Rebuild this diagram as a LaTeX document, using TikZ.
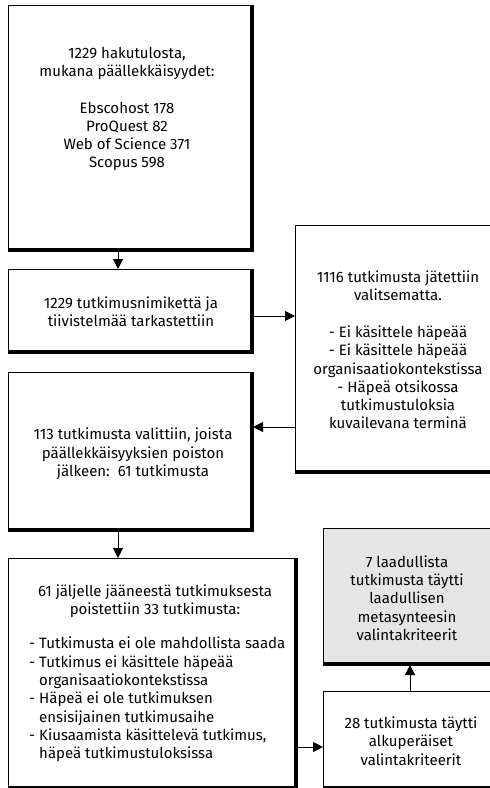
\documentclass[tikz,border=0pt]{standalone}
\usepackage{fontspec}
\setmainfont{Fira Sans}
\usetikzlibrary{arrows.meta,calc}
\newcommand{\boxshadow}[1]{%
  \fill ($(#1.north east)+(-1.5,-0.5)$) rectangle ($(#1.south east)+(2.5,2.5)$);
  \fill ($(#1.south west)+(-0.5,-1.5)$) rectangle ($(#1.south east)+(2.5,2.5)$);}
\begin{document}
\begin{tikzpicture}[x=1pt,y=-1pt,
  box/.style={draw,line width=1pt,anchor=north west,inner sep=0pt,fill=white},
  txt/.style={align=center,font=\fontsize{15}{18.3}\selectfont,inner sep=0pt},
  ltxt/.style={align=left,font=\fontsize{15}{18.3}\selectfont,inner sep=0pt},
  arr/.style={line width=1pt,-{Triangle[length=10pt,width=10pt]}}]
\useasboundingbox (0,0) rectangle (490,788);
\clip (0,0) rectangle (490,788);
% boxes
\node[box,minimum width=242pt,minimum height=243pt] (b1) at (8,5) {};
\node[box,minimum width=242pt,minimum height=81pt] (b2) at (8,269) {};
\node[box,minimum width=210pt,minimum height=245pt] (b3) at (295,225) {};
\node[box,minimum width=242pt,minimum height=156pt] (b4) at (8,372) {};
\node[box,minimum width=286pt,minimum height=228pt] (b5) at (8,558) {};
\node[box,fill=black!10,minimum width=180pt,minimum height=134pt] (b6) at (323,528) {};
\node[box,minimum width=180pt,minimum height=95pt] (b7) at (323,691) {};
\boxshadow{b1}
\boxshadow{b2}
\boxshadow{b3}
\boxshadow{b4}
\boxshadow{b5}
\boxshadow{b6}
\boxshadow{b7}
% texts
\node[txt] (t1) at (127,109) {1229 hakutulosta,\\ mukana päällekkäisyydet:\\[18.3pt]Ebscohost 178\\ProQuest 82\\Web of Science 371\\Scopus 598};
\node[txt] (t2) at (131,312) {1229 tutkimusnimikettä ja\\tiivistelmää tarkastettiin};
\node[txt] (t3) at (398,350) {1116 tutkimusta jätettiin\\valitsematta.\\[18.3pt]- Ei käsittele häpeää\\- Ei käsittele häpeää\\organisaatiokontekstissa\\- Häpeä otsikossa\\tutkimustuloksia\\kuvailevana terminä};
\node[txt] (t4) at (133,454) {113 tutkimusta valittiin, joista\\päällekkäisyyksien poiston\\jälkeen:\ \ 61 tutkimusta};
\node[txt] (t5) at (155,601) {61 jäljelle jääneestä tutkimuksesta\\poistettiin 33 tutkimusta:};
\node[ltxt,anchor=north west] (t5b) at (29,637) {- Tutkimusta ei ole mahdollista saada\\- Tutkimus ei käsittele häpeää\\\phantom{- }organisaatiokontekstissa\\- Häpeä ei ole tutkimuksen\\\phantom{- }ensisijainen tutkimusaihe\\- Kiusaamista käsittelevä tutkimus,\\\phantom{- }häpeä tutkimustuloksissa};
\node[txt] (t6) at (407,598) {7 laadullista\\tutkimusta täytti\\laadullisen\\metasynteesin\\valintakriteerit};
\node[txt] (t7) at (411,741) {28 tutkimusta täytti\\alkuperäiset\\valintakriteerit};
% connectors
\coordinate (c1) at (118,252);
\draw[arr] (c1) -- (c1 |- b2.north);
\coordinate (c2) at (252,316);
\draw[arr] (c2) -- (c2 -| b3.west);
\coordinate (c3) at (295,427);
\draw[arr] (c3) -- ($(c3 -| b4.east)+(2,0)$);
\coordinate (c4) at (118,530);
\draw[arr] (c4) -- (c4 |- b5.north);
\coordinate (c5) at (296,747);
\draw[arr] (c5) -- (c5 -| b7.west);
\coordinate (c6) at (410,691);
\draw[arr] (c6) -- ($(c6 |- b6.south)+(0,2)$);
\end{tikzpicture}
\end{document}
